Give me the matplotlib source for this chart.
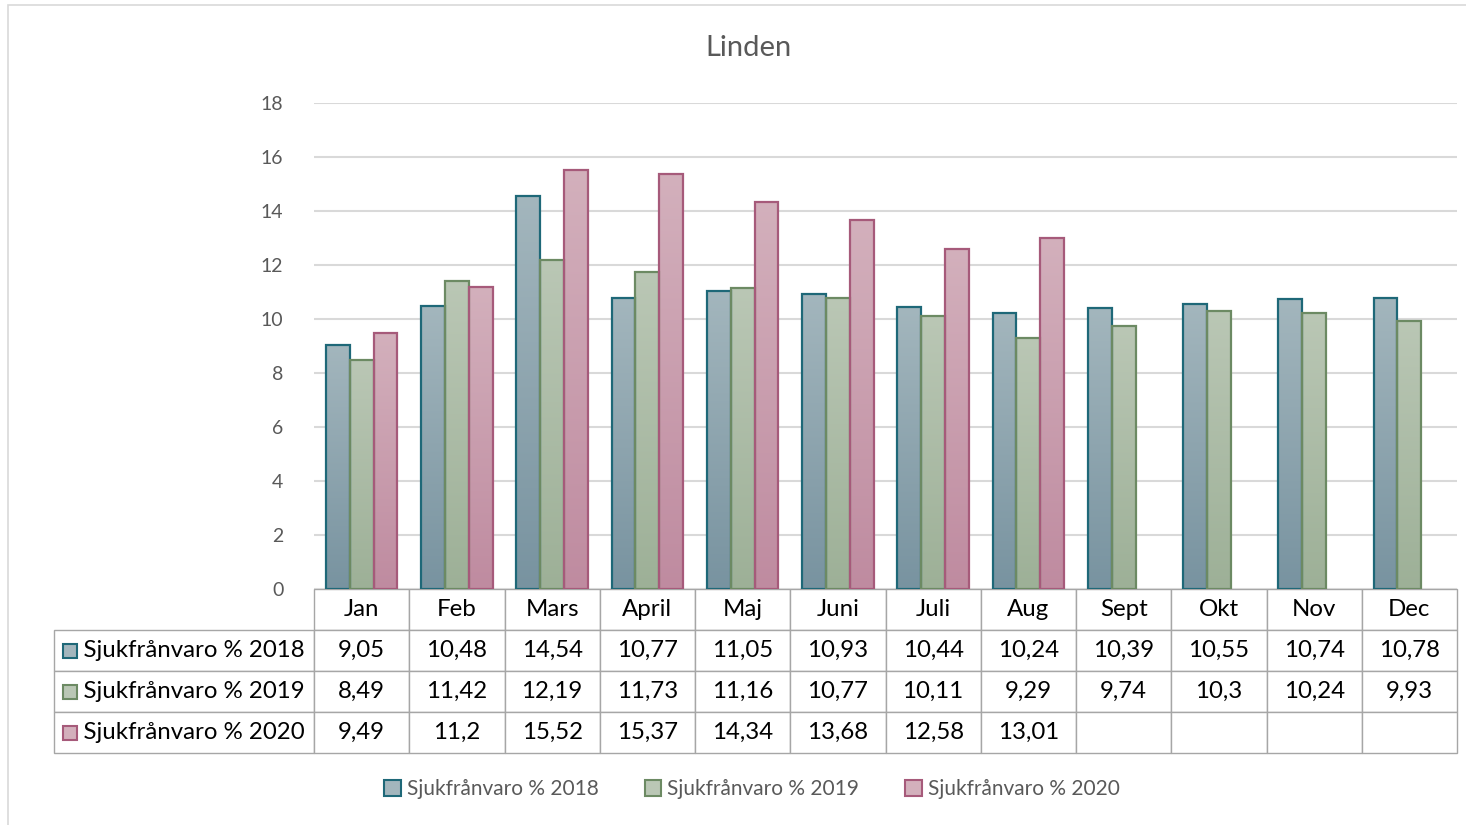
import numpy as np
import matplotlib.pyplot as plt
from matplotlib.colors import LinearSegmentedColormap
from matplotlib.patches import Rectangle

plt.rcParams['font.family'] = ['Lato', 'DejaVu Sans']

months = ['Jan', 'Feb', 'Mars', 'April', 'Maj', 'Juni', 'Juli', 'Aug', 'Sept', 'Okt', 'Nov', 'Dec']
labels = ['Sjukfrånvaro % 2018', 'Sjukfrånvaro % 2019', 'Sjukfrånvaro % 2020']
v2018 = [9.05, 10.48, 14.54, 10.77, 11.05, 10.93, 10.44, 10.24, 10.39, 10.55, 10.74, 10.78]
v2019 = [8.49, 11.42, 12.19, 11.73, 11.16, 10.77, 10.11, 9.29, 9.74, 10.3, 10.24, 9.93]
v2020 = [9.49, 11.2, 15.52, 15.37, 14.34, 13.68, 12.58, 13.01, None, None, None, None]
series = [v2018, v2019, v2020]

# (top colour, bottom colour, edge colour)
styles = [('#A3B6BD', '#7893A0', '#1E6878'),
          ('#BAC7B5', '#9DB097', '#6C8A63'),
          ('#D3B0BC', '#BF8BA0', '#A65A7A')]

fig = plt.figure(figsize=(14.66, 8.25), dpi=100)
W, H = 1466, 825
ax = fig.add_axes([314 / W, 1 - 589 / H, 1143 / W, 486 / H])

x = np.arange(len(months))
width = 0.25
grad = np.linspace(0, 1, 256).reshape(-1, 1)
for k, (vals, (top, bot, edge)) in enumerate(zip(series, styles)):
    cmap = LinearSegmentedColormap.from_list('g%d' % k, [bot, top])
    for i, v in enumerate(vals):
        if v is None:
            continue
        xc = x[i] + (k - 1) * width
        b = ax.bar(xc, v, width, facecolor='none', edgecolor=edge, linewidth=1.6, zorder=3)[0]
        im = ax.imshow(grad, cmap=cmap, origin='lower', aspect='auto',
                       extent=[xc - width / 2, xc + width / 2, 0, v], zorder=2)
        im.set_clip_path(b)

ax.set_xlim(-0.5, len(months) - 0.5)
ax.set_ylim(0, 18)
ax.set_yticks(range(0, 19, 2))
ax.tick_params(axis='y', length=0, pad=22, labelsize=14, labelcolor='#595959')
ax.set_xticks([])
ax.yaxis.grid(True, color='#D9D9D9', linewidth=1.5, zorder=0)
ax.set_axisbelow(True)
for s in ax.spines.values():
    s.set_visible(False)

fig.text(748 / W, 1 - 48 / H, 'Linden', fontsize=21, color='#595959', ha='center', va='center')

# data table below the plot
cell_text = [[''] + months]
for lab, vals in zip(labels, series):
    cell_text.append(['    ' + lab] + ['' if v is None else ('%g' % v).replace('.', ',') for v in vals])
lab_w = 260 / 1143
col_w = 1 / len(months)
tbl = ax.table(cellText=cell_text, colWidths=[lab_w] + [col_w] * len(months),
               bbox=[-lab_w, -164 / 486, 1 + lab_w, 164 / 486], cellLoc='center')
tbl.auto_set_font_size(False)
for (r, c), cell in tbl.get_celld().items():
    cell.set_edgecolor('#A6A6A6')
    cell.set_linewidth(1.0)
    cell.get_text().set_fontsize(17.3)
    cell.get_text().set_color('black')
    if c == 0:
        cell.get_text().set_ha('left')
        cell._loc = 'left'
        cell.PAD = 0.018
    if r == 0 and c == 0:
        cell.set_edgecolor('white')
        cell.visible_edges = ''

# markers for the row labels
row_h = 164 / 486 / 4
for k, (top, bot, edge) in enumerate(styles):
    yc = -row_h * (k + 1.5)
    ax.add_patch(Rectangle((-lab_w + 9 / 1143, yc - 7 / 486), 14 / 1143, 14 / 486,
                           transform=ax.transAxes, clip_on=False,
                           facecolor=top, edgecolor=edge, linewidth=1.5, zorder=5))

# legend
handles = [Rectangle((0, 0), 1, 1, facecolor=top, edgecolor=edge, linewidth=1.5)
           for top, bot, edge in styles]
fig.legend(handles, labels, loc='center', bbox_to_anchor=(752 / W, 1 - 789 / H), ncol=3,
           frameon=False, fontsize=15, labelcolor='#595959', handlelength=0.8,
           handleheight=0.8, handletextpad=0.3, columnspacing=2.2)

# chart border
fig.add_artist(Rectangle((8 / W, -0.01), 1.0, 1 - 5 / H + 0.01, transform=fig.transFigure,
                         fill=False, edgecolor='#D9D9D9', linewidth=1.2))

fig.savefig('out.png', dpi=100)
